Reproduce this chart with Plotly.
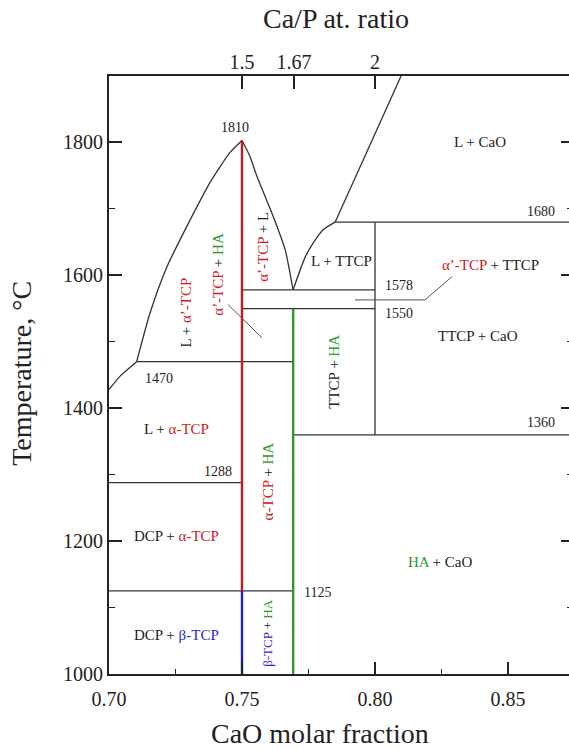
import plotly.graph_objects as go

# ---------------- data (CaO molar fraction, temperature degC) ----------------
x_range = [0.70, 0.87293]
T_range = [1000, 1900]

# compositions of the compounds
x_TCP = 0.75
x_HA = 10 / 13
x_TTCP = 0.80

# liquidus / solidus curves
liq_left_x = [0.7000, 0.7041, 0.7104]
liq_left_T = [1428, 1448, 1470]
aprime_liq_x = [0.7104, 0.7154, 0.7218, 0.7293, 0.7380, 0.7455, 0.7500]
aprime_liq_T = [1470, 1543, 1613, 1674, 1740, 1785, 1803]
dome_right_x = [0.7500, 0.7530, 0.7556, 0.7617, 0.7662, 0.7692]
dome_right_T = [1803, 1779, 1749, 1689, 1639, 1578]
ttcp_liq_x = [0.7692, 0.7737, 0.7768, 0.7806, 0.7850]
ttcp_liq_T = [1578, 1627, 1649, 1669, 1680]
cao_liq_x = [0.7850, 0.8098]
cao_liq_T = [1680, 1900]

# isotherms: temperature, start, end
iso_T = [1470, 1578, 1550, 1288, 1125, 1680, 1360]
iso_x0 = [0.7104, 0.75, 0.75, 0.70, 0.70, 0.785, 10 / 13]
iso_x1 = [10 / 13, 0.80, 0.80, 0.75, 10 / 13, 0.875, 0.875]

# TTCP vertical
ttcp_T = [1360, 1680]
# coloured compound lines
red_T = [1125, 1803]
blue_T = [1000, 1125]
green_T = [1000, 1550]

# leader lines
lead1_x = [0.74474, 0.75752]
lead1_T = [1556, 1506]
lead2_x = [0.79248, 0.81880, 0.82895]
lead2_T = [1563, 1563, 1598]

# top axis: Ca/P atomic ratio
cap_ratio = [1.5, 1.67, 2]
cap_text = ["1.5", "1.67", "2"]

R = "#cc2020"
G = "#2e952e"
B = "#2a2ad2"
K = "#222222"


def c(t, col):
    return f"<span style='color:{col}'>{t}</span>"


lbl_text = [
    "1810", c("L + CaO", K), "1680", "L + TTCP",
    c("α’-TCP", R) + " + TTCP", "1578", "1550", "TTCP + CaO",
    "TTCP + " + c("HA", G), "1360", c("HA", G) + " + CaO", "1125", "1470",
    "L + " + c("α-TCP", R), "1288", "DCP + " + c("α-TCP", R),
    "DCP + " + c("β-TCP", B), c("α-TCP", R) + " + " + c("HA", G),
    c("β-TCP", B) + " + " + c("HA", G), "L + " + c("α’-TCP", R),
    c("α’-TCP", R) + " + " + c("HA", G), c("α’-TCP", R) + " + L",
]
lbl_x = [0.7474, 0.8395, 0.8624, 0.7875, 0.8435, 0.8090, 0.8090, 0.8387,
         0.7846, 0.8624, 0.8244, 0.7785, 0.7188, 0.7255, 0.7410, 0.7255,
         0.7255, 0.7598, 0.7598, 0.7286, 0.7410, 0.7579]
lbl_T = [1822, 1800, 1696, 1622, 1615, 1585, 1542, 1508,
         1455, 1378, 1168, 1123, 1445, 1368, 1305, 1207,
         1059, 1290, 1062, 1544, 1601, 1643]
lbl_angle = [0, 0, 0, 0, 0, 0, 0, 0,
             -90, 0, 0, 0, 0, 0, 0, 0,
             0, -90, -90, -90, -90, -90]
lbl_size = [14, 15, 14, 15, 15, 14, 14, 15,
            15, 14, 15, 14, 14, 15, 14, 15,
            15, 15, 13, 15, 15, 15]

FONT = "Liberation Serif"
LC = "#333333"
LW = 1.3

fig = go.Figure()


def add_line(xs, ys, color=LC, width=LW, shape="linear", yaxis="y"):
    fig.add_trace(go.Scatter(x=xs, y=ys, mode="lines", yaxis=yaxis,
                             line=dict(color=color, width=width, shape=shape,
                                       smoothing=0.6),
                             hoverinfo="skip", showlegend=False))


add_line(liq_left_x, liq_left_T, shape="spline")
add_line(aprime_liq_x, aprime_liq_T, shape="spline")
add_line(dome_right_x, dome_right_T, shape="spline")
add_line(ttcp_liq_x, ttcp_liq_T, shape="spline")
add_line(cao_liq_x, cao_liq_T)
for t, a, b in zip(iso_T, iso_x0, iso_x1):
    add_line([a, b], [t, t])
add_line([x_TTCP, x_TTCP], ttcp_T)
add_line(lead1_x, lead1_T, color="#555555", width=1)
add_line(lead2_x, lead2_T, color="#555555", width=1)
add_line([x_TCP, x_TCP], red_T, color="#c81818", width=2.4)
add_line([x_TCP, x_TCP], blue_T, color="#1a1ae0", width=2.4)
add_line([x_HA, x_HA], green_T, color="#2a9a2a", width=2.4)
# invisible traces to activate the secondary axes
fig.add_trace(go.Scatter(x=[None], y=[None], yaxis="y2", showlegend=False,
                         hoverinfo="skip"))
fig.add_trace(go.Scatter(x=[None], y=[None], xaxis="x2", showlegend=False,
                         hoverinfo="skip"))

for t, x, T, a, s in zip(lbl_text, lbl_x, lbl_T, lbl_angle, lbl_size):
    fig.add_annotation(x=x, y=T, text=t, textangle=a, showarrow=False,
                       font=dict(family=FONT, size=s, color=K),
                       xanchor="center", yanchor="middle")

# axis titles
fig.add_annotation(xref="paper", yref="paper", x=0.4587, y=-0.10,
                   text="CaO molar fraction", showarrow=False,
                   font=dict(family=FONT, size=28, color=K),
                   xanchor="center", yanchor="middle")
fig.add_annotation(xref="paper", yref="paper", x=0.493, y=1.096,
                   text="Ca/P at. ratio", showarrow=False,
                   font=dict(family=FONT, size=28, color=K),
                   xanchor="center", yanchor="middle")
fig.add_annotation(xref="paper", yref="paper", x=-0.189, y=0.502,
                   text="Temperature, °C", textangle=-90, showarrow=False,
                   font=dict(family=FONT, size=28, color=K),
                   xanchor="center", yanchor="middle")

tickfont = dict(family=FONT, size=20, color=K)
cap_x = [2 * r / (2 * r + 1) for r in cap_ratio]

fig.update_layout(
    width=569, height=749,
    margin=dict(l=109, r=0, t=76, b=75),
    paper_bgcolor="white", plot_bgcolor="white",
    showlegend=False,
    xaxis=dict(range=x_range, tick0=0.70, dtick=0.05, tickformat=".2f",
               ticks="inside", ticklen=12, tickwidth=1.5, tickcolor=K,
               minor=dict(dtick=0.025, ticks="inside", ticklen=5,
                          tickwidth=1.2, tickcolor=K),
               showline=True, linewidth=1.8, linecolor=K, showgrid=False,
               zeroline=False, tickfont=tickfont, ticklabelstandoff=6),
    xaxis2=dict(range=x_range, overlaying="x", side="top",
                tickvals=cap_x, ticktext=cap_text,
                ticks="inside", ticklen=13, tickwidth=1.5, tickcolor=K,
                showline=True, linewidth=1.8, linecolor=K, showgrid=False,
                zeroline=False, tickfont=tickfont, ticklabelstandoff=-3),
    yaxis=dict(range=T_range, dtick=200, ticks="inside", ticklen=13,
               tickwidth=1.5, tickcolor=K,
               minor=dict(dtick=100, ticks="inside", ticklen=6,
                          tickwidth=1.2, tickcolor=K),
               showline=True, linewidth=1.8, linecolor=K, showgrid=False,
               zeroline=False, tickfont=tickfont),
    yaxis2=dict(range=T_range, overlaying="y", side="right", dtick=200,
                ticks="inside", ticklen=8, tickwidth=1.5, tickcolor=K,
                minor=dict(dtick=100, ticks="inside", ticklen=2,
                           tickwidth=1.2, tickcolor=K),
                showticklabels=False, showline=False, showgrid=False,
                zeroline=False),
)

fig.write_html("out.html")
